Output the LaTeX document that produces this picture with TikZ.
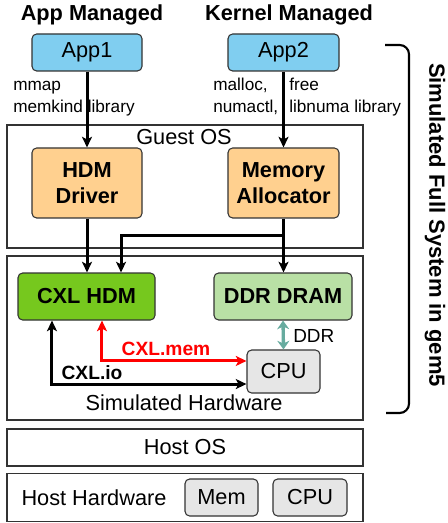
\documentclass[tikz,border=0pt]{standalone}
\usepackage{fontspec}
\setmainfont{Liberation Sans}
\usetikzlibrary{arrows.meta}
\definecolor{appblue}{HTML}{80CEF0}
\definecolor{osorange}{HTML}{FFD08F}
\definecolor{cxlgreen}{HTML}{76C81E}
\definecolor{ddrgreen}{HTML}{B9E0A5}
\definecolor{cpugray}{HTML}{E6E6E6}
\definecolor{ddrteal}{HTML}{67AB9F}
\definecolor{edgegray}{HTML}{333333}
\begin{document}
\begin{tikzpicture}[x=0.75pt,y=-0.75pt,
  bigtxt/.style={font=\fontsize{16.3}{19.5}\selectfont},
  bigbold/.style={font=\fontsize{16.3}{19.5}\selectfont\bfseries},
  lbl/.style={font=\fontsize{12.9}{15}\selectfont, anchor=base west, inner sep=0pt},
  layer/.style={draw=edgegray, line width=1pt, fill=white, inner sep=0pt},
  rbox/.style={draw=edgegray, line width=0.8pt, rounded corners=3.5pt, align=center, inner sep=0pt},
  conn/.style={line width=2.25pt, -{Stealth[length=8pt,width=7.5pt,inset=2pt]}},
  dbl/.style={line width=2.25pt, {Stealth[length=8pt,width=7.5pt,inset=2pt]}-{Stealth[length=8pt,width=7.5pt,inset=2pt]}}
]
\useasboundingbox (0,0) rectangle (447,523);

% layers
\node[layer, minimum width=267pt, minimum height=92.25pt] (guest) at (185,186.5) {};
\node[bigtxt] (guestlbl) at (184,137) {Guest OS};
\node[layer, minimum width=267pt, minimum height=123pt] (simhw) at (185,338) {};
\node[bigtxt] (simhwlbl) at (184,403) {Simulated Hardware};
\node[layer, minimum width=267pt, minimum height=27.75pt, bigtxt] (hostos) at (185,447.5) {Host OS};
\node[layer, minimum width=267pt, minimum height=36pt] (hosthw) at (185,497.5) {};
\node[bigtxt] (hosthwlbl) at (94,497.5) {Host Hardware};
\node[rbox, fill=cpugray, minimum width=54.75pt, minimum height=27.75pt, bigtxt] (mem) at (221.5,497.5) {Mem};
\node[rbox, fill=cpugray, minimum width=55.5pt, minimum height=27.75pt, bigtxt] (hcpu) at (310,497.5) {CPU};

% titles
\node[bigbold, anchor=base, inner sep=0pt] (t1) at (92,21) {App Managed};
\node[bigbold, anchor=base, inner sep=0pt] (t2) at (289,21) {Kernel Managed};

% apps
\node[rbox, fill=appblue, minimum width=82.5pt, minimum height=27.75pt, bigtxt] (app1) at (87,52.5) {App1};
\node[rbox, fill=appblue, minimum width=83.25pt, minimum height=27.75pt, bigtxt] (app2) at (283.5,52.5) {App2};

% labels
\node[lbl] (l1) at (13,91) {mmap};
\node[lbl] (l2) at (13,112.5) {memkind library};
\node[lbl] (l3) at (213,91) {malloc,};
\node[lbl] (l4) at (213,112.5) {numactl,};
\node[lbl] (l5) at (289,91) {free};
\node[lbl] (l6) at (289,112.5) {libnuma library};

% guest OS boxes
\node[rbox, fill=osorange, minimum width=82.5pt, minimum height=52.5pt, bigbold] (hdm) at (87,183) {HDM\\Driver};
\node[rbox, fill=osorange, minimum width=83.25pt, minimum height=52.5pt, bigbold] (alloc) at (283.5,183) {Memory\\Allocator};

% simulated hardware
\node[rbox, fill=cxlgreen, minimum width=102.75pt, minimum height=35.25pt, bigbold] (cxl) at (86.5,296.5) {CXL HDM};
\node[rbox, fill=ddrgreen, minimum width=103.5pt, minimum height=35.25pt, bigbold] (ddr) at (283,296.5) {DDR DRAM};
\node[rbox, fill=cpugray, minimum width=54.75pt, minimum height=32.25pt, bigtxt] (cpu) at (283.5,371.5) {CPU};

% connectors
\draw[conn] (app1.south) -- (hdm.north);
\draw[conn] (app2.south) -- (app2.south |- alloc.north);
\draw[conn] (hdm.south) -- (hdm.south |- cxl.north);
\draw[conn] (alloc.south) -- (alloc.south |- ddr.north);
\coordinate (brk) at (283.5,236);
\draw[conn] (brk) -| ([xshift=25.9pt]cxl.north);

\draw[dbl, red] ([xshift=11.6pt]cxl.south) |- ([yshift=7.9pt]cpu.west);
\draw[dbl, black] ([xshift=-25.9pt]cxl.south) |- ([yshift=-9.4pt]cpu.west);
\draw[line width=2.5pt, ddrteal, {Stealth[length=6.5pt,width=9pt,inset=2pt]}-{Stealth[length=6.5pt,width=9pt,inset=2pt]}]
  (ddr.south) -- (cpu.north);

\node[font=\fontsize{14.4}{16}\selectfont\bfseries, text=red] (memlbl) at (166,349) {CXL.mem};
\node[font=\fontsize{14.4}{16}\selectfont\bfseries] (iolbl) at (92,373) {CXL.io};
\node[font=\fontsize{14.2}{16}\selectfont, anchor=west, inner sep=0pt] (ddrlbl) at (293,336) {DDR};

% brace
\draw[line width=1.6pt, rounded corners=7pt] (385,45) -- (409,45) -- (409,413) -- (386,413);
\node[font=\fontsize{16.5}{19}\selectfont\bfseries, rotate=-90] (sys) at (435,225) {Simulated Full System in gem5};
\end{tikzpicture}
\end{document}
